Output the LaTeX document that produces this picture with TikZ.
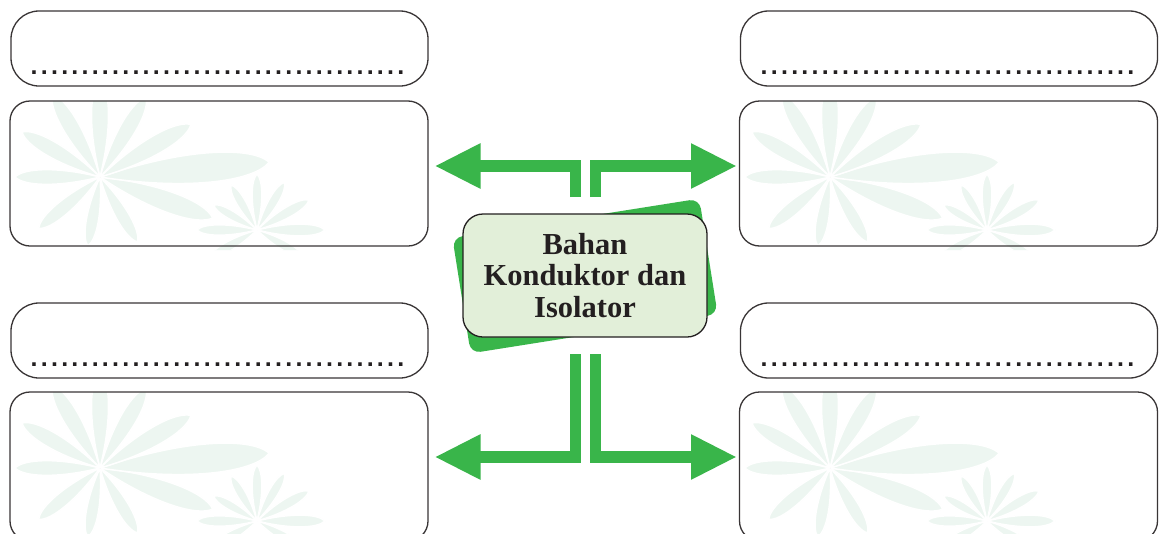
\documentclass[tikz,border=0pt]{standalone}
\usepackage{fontspec}
\setmainfont{Liberation Serif}
\newfontfamily\dotfont{Liberation Sans}
\usetikzlibrary{arrows.meta}
\definecolor{garr}{HTML}{39B54A}
\definecolor{cfill}{HTML}{E2EFD9}
\definecolor{ink}{HTML}{231F20}
\definecolor{wm}{HTML}{EDF6F1}
\tikzset{
  labelbox/.style={draw=ink!90, line width=1.3pt, rounded corners=28pt, minimum width=417pt, minimum height=75pt, inner sep=0pt},
  bigbox/.style={draw=ink!90, line width=1.3pt, rounded corners=20pt, minimum width=418pt, minimum height=145pt, inner sep=0pt},
  garrow/.style={draw=garr, line width=11.5pt, -{Triangle[length=46pt,width=42pt]}},
  dotline/.style={anchor=base west, inner sep=0pt, text=ink, font=\dotfont\bfseries\fontsize{25}{25}\selectfont},
  petal/.style={fill=wm, draw=white, line width=1.5pt},
  pics/bigflower/.style={code={
    \foreach \a/\r in {180/85, 140/80, 100/70, 60/75, 20/120, 355/170, 330/105, 300/92, 270/98, 240/95, 210/90} {
      \path[petal] (0,0) .. controls ({\a-14}:{0.5*\r}) and ({\a-7}:{0.9*\r}) .. (\a:\r)
        .. controls ({\a+7}:{0.9*\r}) and ({\a+14}:{0.5*\r}) .. (0,0);
    }
  }},
  pics/smallflower/.style={code={
    \foreach \a/\r in {180/60, 210/50, 240/52, 270/56, 300/55, 330/60, 0/68, 30/52, 150/55} {
      \path[petal] (0,0) .. controls ({\a-14}:{0.5*\r}) and ({\a-7}:{0.9*\r}) .. (\a:\r)
        .. controls ({\a+7}:{0.9*\r}) and ({\a+14}:{0.5*\r}) .. (0,0);
    }
  }}
}
\begin{document}
\begin{tikzpicture}[x=1pt,y=-1pt]
\useasboundingbox (0,0) rectangle (1159,533);
\fill[white] (0,0) rectangle (1159,533);

% watermark flowers inside the big boxes
\foreach \bx/\by in {10/101, 740/101, 10/392, 740/392} {
  \begin{scope}
    \clip[rounded corners=20pt] (\bx,\by) rectangle ++(418,149);
    \pic at ({\bx+90},{\by+76}) {bigflower};
    \pic at ({\bx+247},{\by+129}) {smallflower};
  \end{scope}
}

% boxes
\node[labelbox] (ltl) at (219.5,48.5) {};
\node[bigbox] (ltb) at (219,173.5) {};
\node[labelbox] (rtl) at (949,48.5) {};
\node[bigbox] (rtb) at (948.5,173.5) {};
\node[labelbox] (lbl) at (219.5,340.5) {};
\node[bigbox, minimum height=149pt] (lbb) at (219,466.5) {};
\node[labelbox] (rbl) at (949,340.5) {};
\node[bigbox, minimum height=149pt] (rbb) at (948.5,466.5) {};

% dotted answer lines
\node[dotline] (d1) at (28.9,74.5) {\hbox to 376.7pt{\xleaders\hbox to 10.18pt{\hss.\hss}\hfill}};
\node[dotline] (d2) at (758.9,74.5) {\hbox to 376.7pt{\xleaders\hbox to 10.18pt{\hss.\hss}\hfill}};
\node[dotline] (d3) at (28.9,366.8) {\hbox to 376.7pt{\xleaders\hbox to 10.18pt{\hss.\hss}\hfill}};
\node[dotline] (d4) at (758.9,366.8) {\hbox to 376.7pt{\xleaders\hbox to 10.18pt{\hss.\hss}\hfill}};

% arrows
\coordinate (s1) at (575.5,197);
\coordinate (s2) at (595.5,197);
\coordinate (s3) at (575.5,354.3);
\coordinate (s4) at (595.5,354.3);
\coordinate (e1) at (434.5,166);
\coordinate (e2) at (737,166);
\coordinate (e3) at (434.5,457);
\coordinate (e4) at (737,457);
\draw[garrow] (s1) |- (e1);
\draw[garrow] (s2) |- (e2);
\draw[garrow] (s3) |- (e3);
\draw[garrow] (s4) |- (e4);

% central topic
\node[fill=garr, rounded corners=10pt, minimum width=250pt, minimum height=117pt, rotate=9] (back) at (585,276) {};
\node[draw=ink, line width=1.3pt, fill=cfill, rounded corners=20pt, minimum width=244pt, minimum height=123pt,
      align=center, text=ink, font=\bfseries\fontsize{30.5}{31.7}\selectfont] (c) at (585,275.5) {Bahan\\Konduktor dan\\Isolator};
\end{tikzpicture}
\end{document}
